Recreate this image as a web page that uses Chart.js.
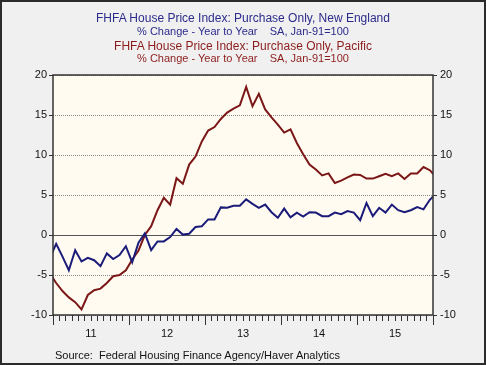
<!DOCTYPE html>
<html>
<head>
<meta charset="utf-8">
<script src="https://cdn.jsdelivr.net/npm/chart.js@4.4.0/dist/chart.umd.min.js"></script>
<style>
    body { margin: 0; background: #fff; }
    #wrap { position: relative; width: 486px; height: 365px; background: #f0f0f0; font-family: "Liberation Sans", Arial, sans-serif; }
    #myChart { position: absolute; left: 0; top: 0; }
    #frame { position: absolute; left: 0; top: 0; width: 486px; height: 365px; box-sizing: border-box; border: 2px solid #2b2b2b; pointer-events: none; }
    .t { position: absolute; left: 0; width: 486px; text-align: center; white-space: pre; line-height: 14px; }
    .blue { color: #2b2b8c; }
    .red { color: #8c1c1c; }
    #source { position: absolute; left: 55px; top: 348px; font-size: 11px; line-height: 14px; color: #111; white-space: pre; }
</style>
</head>
<body>
<div id="wrap">
    <canvas id="myChart" width="486" height="365"></canvas>
    <div class="t blue" style="top:11px;font-size:12px;">FHFA House Price Index: Purchase Only, New England</div>
    <div class="t blue" style="top:24px;font-size:11px;">% Change - Year to Year    SA, Jan-91=100</div>
    <div class="t red" style="top:39px;font-size:12px;">FHFA House Price Index: Purchase Only, Pacific</div>
    <div class="t red" style="top:51px;font-size:11px;">% Change - Year to Year    SA, Jan-91=100</div>
    <div id="source">Source:  Federal Housing Finance Agency/Haver Analytics</div>
    <div id="frame"></div>
</div>
<script>
// monthly, Dec-10 .. Jan-16 (first and last only show as clipped stubs at the edges)
const months = [
    'Dec-10',
    'Jan-11', 'Feb-11', 'Mar-11', 'Apr-11', 'May-11', 'Jun-11', 'Jul-11', 'Aug-11', 'Sep-11', 'Oct-11', 'Nov-11', 'Dec-11',
    'Jan-12', 'Feb-12', 'Mar-12', 'Apr-12', 'May-12', 'Jun-12', 'Jul-12', 'Aug-12', 'Sep-12', 'Oct-12', 'Nov-12', 'Dec-12',
    'Jan-13', 'Feb-13', 'Mar-13', 'Apr-13', 'May-13', 'Jun-13', 'Jul-13', 'Aug-13', 'Sep-13', 'Oct-13', 'Nov-13', 'Dec-13',
    'Jan-14', 'Feb-14', 'Mar-14', 'Apr-14', 'May-14', 'Jun-14', 'Jul-14', 'Aug-14', 'Sep-14', 'Oct-14', 'Nov-14', 'Dec-14',
    'Jan-15', 'Feb-15', 'Mar-15', 'Apr-15', 'May-15', 'Jun-15', 'Jul-15', 'Aug-15', 'Sep-15', 'Oct-15', 'Nov-15', 'Dec-15',
    'Jan-16'
];

const newEngland = [
    -2.9,
    -1.1, -2.7, -4.4, -1.9, -3.3, -2.85, -3.15, -3.9, -2.3, -3.0, -2.5, -1.4,
    -3.4, -0.95, 0.2, -1.9, -0.8, -0.8, -0.25, 0.75, 0.05, 0.15, 1.0, 1.1,
    1.95, 1.95, 3.45, 3.4, 3.65, 3.65, 4.45, 3.9, 3.4, 3.8, 2.85, 2.15,
    3.3, 2.2, 2.8, 2.3, 2.85, 2.8, 2.35, 2.35, 2.8, 2.6, 3.0, 2.8,
    1.85, 4.0, 2.35, 3.4, 2.8, 3.8, 3.1, 2.85, 3.1, 3.5, 3.2, 4.4,
    5.2
];

const pacific = [
    -4.8,
    -6.0, -7.0, -7.8, -8.4, -9.3, -7.5, -6.9, -6.7, -6.0, -5.15, -5.0, -4.4,
    -3.1, -1.95, 0.0, 1.1, 3.1, 4.65, 3.8, 7.1, 6.4, 8.8, 9.8, 11.7,
    13.05, 13.5, 14.5, 15.3, 15.8, 16.2, 18.5, 16.1, 17.65, 15.7, 14.7, 13.8,
    12.8, 13.2, 11.5, 10.1, 8.8, 8.2, 7.45, 7.7, 6.5, 6.8, 7.2, 7.55,
    7.5, 7.05, 7.05, 7.35, 7.65, 7.35, 7.7, 7.0, 7.7, 7.7, 8.5, 8.1,
    7.2
];

const yearLabels = ['11', '12', '13', '14', '15'];
const yTicks = [-10, -5, 0, 5, 10, 15, 20];

// x = months since Jan-11, points sit mid-month
function toPoints(values) {
    return values.map((v, i) => ({ x: i - 0.5, y: v }));
}

const plotBox = {
    id: 'plotBox',
    beforeDatasetsDraw(chart) {
    },
    beforeDraw(chart) {
        let a = chart.chartArea;
        let ctx = chart.ctx;
        ctx.save();
        ctx.fillStyle = '#fffbf0';
        ctx.fillRect(a.left, a.top, a.right - a.left, a.bottom - a.top);
        ctx.restore();
    },
    afterDraw(chart) {
        let a = chart.chartArea;
        let ctx = chart.ctx;
        let x = chart.scales.x;
        ctx.save();
        ctx.strokeStyle = '#333';
        ctx.lineWidth = 1.5;
        ctx.strokeRect(a.left, a.top, a.right - a.left, a.bottom - a.top);
        // longer tick marks at year boundaries
        ctx.lineWidth = 1;
        ctx.beginPath();
        for (let m = 0; m <= 60; m += 12) {
            let px = Math.round(x.getPixelForValue(m)) + 0.5;
            ctx.moveTo(px, a.bottom);
            ctx.lineTo(px, a.bottom + 10);
        }
        ctx.stroke();
        ctx.restore();
    }
};

const tickFont = { family: '"Liberation Sans", Arial, sans-serif', size: 11 };

let ctx = document.getElementById('myChart').getContext('2d');
let myChart = new Chart(ctx, {
    type: 'line',
    data: {
        labels: months,
        datasets: [{
            label: 'New England',
            data: toPoints(newEngland),
            borderColor: '#1b1b7a',
            borderWidth: 2,
            pointRadius: 0,
            tension: 0,
            clip: 0
        }, {
            label: 'Pacific',
            data: toPoints(pacific),
            borderColor: '#7b1717',
            borderWidth: 2,
            pointRadius: 0,
            tension: 0,
            clip: 0
        }]
    },
    options: {
        responsive: false,
        animation: false,
        layout: { padding: { top: 75, left: 0, right: 0, bottom: 0 } },
        plugins: {
            legend: { display: false },
            tooltip: { enabled: false }
        },
        scales: {
            x: {
                type: 'linear',
                min: 0,
                max: 60,
                afterBuildTicks: function(scale) {
                    let t = [];
                    for (let m = 0; m <= 60; m++) t.push({ value: m });
                    scale.ticks = t;
                },
                afterFit: function(scale) { scale.height = 50; },
                grid: {
                    drawOnChartArea: false,
                    tickLength: 6,
                    tickColor: '#333'
                },
                border: { display: false },
                ticks: {
                    autoSkip: false,
                    maxRotation: 0,
                    padding: 6,
                    color: '#111',
                    font: tickFont,
                    callback: function(value) {
                        if (value % 12 === 6) return yearLabels[(value - 6) / 12];
                        return '';
                    }
                }
            },
            y: {
                position: 'left',
                min: -10,
                max: 20,
                afterBuildTicks: function(scale) {
                    scale.ticks = yTicks.map(v => ({ value: v }));
                },
                afterFit: function(scale) { scale.width = 53; },
                grid: {
                    color: function(c) { return c.tick.value === 0 ? '#555' : '#8a8a8a'; },
                    lineWidth: 1,
                    tickLength: 4,
                    tickColor: '#333',
                    tickBorderDash: []
                },
                border: {
                    display: false,
                    dash: function(c) { return c.tick.value === 0 ? [] : [1, 1]; }
                },
                ticks: {
                    padding: 2,
                    color: '#111',
                    font: tickFont
                }
            },
            y2: {
                position: 'right',
                min: -10,
                max: 20,
                afterBuildTicks: function(scale) {
                    scale.ticks = yTicks.map(v => ({ value: v }));
                },
                afterFit: function(scale) { scale.width = 53; },
                grid: {
                    drawOnChartArea: false,
                    tickLength: 4,
                    tickColor: '#333'
                },
                border: { display: false },
                ticks: {
                    padding: 3,
                    color: '#111',
                    font: tickFont
                }
            }
        }
    },
    plugins: [plotBox]
});
</script>
</body>
</html>
